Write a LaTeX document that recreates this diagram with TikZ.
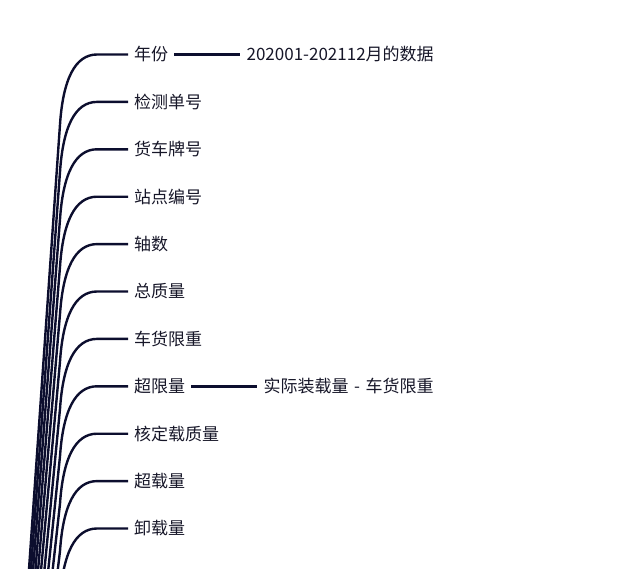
\documentclass[tikz,border=0pt]{standalone}
\usepackage{fontspec}
\setmainfont{Noto Sans CJK SC}
\usetikzlibrary{positioning}
\definecolor{linkcolor}{RGB}{12,14,46}
\definecolor{labelcolor}{RGB}{22,22,40}

\begin{document}
\begin{tikzpicture}[x=1pt,y=-1pt,
    every node/.style={font=\fontsize{17}{20}\selectfont, text=labelcolor, inner xsep=6pt, anchor=west},
    branch/.style={draw=linkcolor, line width=2.4pt},
    leaf/.style={draw=linkcolor, line width=2.4pt}]
  \useasboundingbox (0,0) rectangle (624,568);
  \clip (0,0) rectangle (624,568);
  \coordinate (root) at (-11,1143);
  \foreach \name/\label [count=\i from 0] in {nianfen/年份, jiance/检测单号, chepai/货车牌号,
      zhandian/站点编号, zhoushu/轴数, zongzhiliang/总质量, xianzhong/车货限重,
      chaoxian/超限量, hedingzai/核定载质量, chaozai/超载量, xiezai/卸载量}{
    \node (\name) at (128,{54.5+47.4*\i}) {\label};
    \draw[branch] (root) -- ([xshift=-68pt,yshift=-70pt]\name.west)
      .. controls ([xshift=-65pt,yshift=-25pt]\name.west) and ([xshift=-53pt]\name.west)
      .. ([xshift=-31pt]\name.west) -- (\name.west);
  }
  \node[right=66pt of nianfen] (nianfen-1) {202001-202112月的数据};
  \node[right=66pt of chaoxian] (chaoxian-1) {实际装载量\hspace{0.33em}-\hspace{0.33em}车货限重};
  \draw[leaf] (nianfen) -- (nianfen-1);
  \draw[leaf] (chaoxian) -- (chaoxian-1);
\end{tikzpicture}
\end{document}
